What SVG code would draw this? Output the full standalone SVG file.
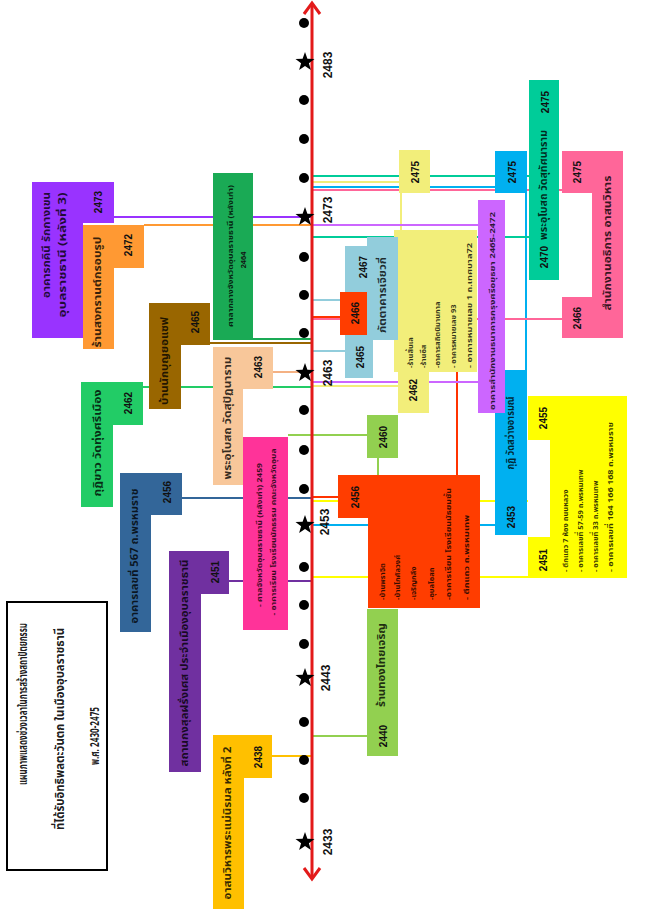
<svg xmlns="http://www.w3.org/2000/svg" width="665" height="909" viewBox="0 0 665 909">
<defs>
<style>
.t{font-family:"Noto Sans Thai","Noto Sans Thai UI","Noto Sans","DejaVu Sans",sans-serif;font-weight:bold;fill:#000;fill-opacity:.78;text-anchor:middle;dominant-baseline:central;font-size:10px}
.yr{font-family:"Liberation Sans",Arial,sans-serif;font-weight:bold;fill:#111;text-anchor:middle;dominant-baseline:central;font-size:10px}
.tl{font-family:"Liberation Sans",Arial,sans-serif;font-weight:bold;fill:#111;text-anchor:middle;dominant-baseline:central;font-size:12px}
.ti{font-size:11.5px;fill-opacity:.9}
.sm{font-size:7.5px}
.st{text-anchor:start}
.c line,.c polyline{stroke-width:2;fill:none}
</style>
<polygon id="star" points="0,-10 2.4,-3.3 9.5,-3.1 3.9,1.3 5.9,8.1 0,4.1 -5.9,8.1 -3.9,1.3 -9.5,-3.1 -2.4,-3.3" fill="#000"/>
</defs>
<rect width="665" height="909" fill="#fff"/>

<g id="connectors" class="c">
<line x1="114" y1="217" x2="311" y2="217" stroke="#9933FF"/>
<line x1="144" y1="225" x2="311" y2="225" stroke="#FF9933"/>
<line x1="253" y1="339" x2="311" y2="339" stroke="#1AAA55"/>
<line x1="210" y1="343" x2="311" y2="343" stroke="#996600"/>
<line x1="143" y1="387" x2="311" y2="387" stroke="#22CC66"/>
<line x1="273" y1="372" x2="311" y2="372" stroke="#F4B183"/>
<line x1="182" y1="498" x2="311" y2="498" stroke="#336699"/>
<line x1="229" y1="581" x2="311" y2="581" stroke="#7030A0"/>
<line x1="272" y1="756" x2="311" y2="756" stroke="#FFC000"/>
<line x1="311" y1="736" x2="367" y2="736" stroke="#92D050"/>
<line x1="288" y1="435" x2="367" y2="435" stroke="#92D050"/>
<line x1="378" y1="458" x2="378" y2="475" stroke="#92D050"/>
<line x1="311" y1="501" x2="528" y2="501" stroke="#FFFF00" stroke-width="3"/>
<line x1="311" y1="577" x2="528" y2="577" stroke="#FFFF00" stroke-width="3"/>
<line x1="311" y1="497" x2="338" y2="497" stroke="#FF3300"/>
<line x1="457" y1="372" x2="457" y2="475" stroke="#FF3300"/>
<line x1="311" y1="317" x2="340" y2="317" stroke="#FF3300"/>
<line x1="311" y1="525" x2="495" y2="525" stroke="#00B0F0"/>
<line x1="311" y1="187" x2="495" y2="187" stroke="#00B0F0"/>
<line x1="526" y1="193" x2="526" y2="370" stroke="#00B0F0"/>
<line x1="311" y1="176" x2="529" y2="176" stroke="#00CC99"/>
<line x1="311" y1="237" x2="529" y2="237" stroke="#00CC99"/>
<line x1="311" y1="182" x2="399" y2="182" stroke="#F2EE7A"/>
<line x1="401" y1="193" x2="401" y2="230" stroke="#F2EE7A"/>
<line x1="311" y1="386" x2="398" y2="386" stroke="#F2EE7A"/>
<line x1="311" y1="225" x2="478" y2="225" stroke="#CC66FF"/>
<line x1="311" y1="382" x2="478" y2="382" stroke="#CC66FF"/>
<line x1="311" y1="300" x2="345" y2="300" stroke="#92CDDC"/>
<line x1="311" y1="351" x2="345" y2="351" stroke="#92CDDC"/>
<line x1="311" y1="190" x2="562" y2="190" stroke="#FF6699"/>
<line x1="311" y1="319" x2="562" y2="319" stroke="#FF6699"/>
</g>

<g id="timeline">
<line x1="312" y1="4" x2="312" y2="878" stroke="#E31A1A" stroke-width="3"/>
<polyline points="304,14 312,3 320,14" fill="none" stroke="#E31A1A" stroke-width="3"/>
<polyline points="304,868 312,879 320,868" fill="none" stroke="#E31A1A" stroke-width="3"/>
<g fill="#000">
<circle cx="304" cy="23" r="5"/><circle cx="304" cy="100" r="5"/><circle cx="304" cy="139" r="5"/><circle cx="304" cy="178" r="5"/>
<circle cx="304" cy="257" r="5"/><circle cx="304" cy="295" r="5"/><circle cx="304" cy="333" r="5"/>
<circle cx="304" cy="410" r="5"/><circle cx="304" cy="450" r="5"/><circle cx="304" cy="489" r="5"/>
<circle cx="304" cy="567" r="5"/><circle cx="304" cy="605" r="5"/><circle cx="304" cy="644" r="5"/>
<circle cx="304" cy="722" r="5"/><circle cx="304" cy="760" r="5"/><circle cx="304" cy="798" r="5"/>
</g>
<use href="#star" x="305" y="62"/><use href="#star" x="305" y="217"/><use href="#star" x="305" y="373"/>
<use href="#star" x="305" y="525"/><use href="#star" x="305" y="678"/><use href="#star" x="305" y="842"/>
<text class="tl" transform="translate(328,65) rotate(-90)">2483</text>
<text class="tl" transform="translate(328,210) rotate(-90)">2473</text>
<text class="tl" transform="translate(328,373) rotate(-90)">2463</text>
<text class="tl" transform="translate(325,522) rotate(-90)">2453</text>
<text class="tl" transform="translate(326,678) rotate(-90)">2443</text>
<text class="tl" transform="translate(328,842) rotate(-90)">2433</text>
</g>

<g id="title">
<rect x="7" y="602" width="100" height="268" fill="#fff" stroke="#000" stroke-width="2"/>
<text class="t ti" transform="translate(23,704) rotate(-90)" textLength="162" lengthAdjust="spacingAndGlyphs">แผนภาพแสดงช่วงเวลาในการสร้างสถาปัตยกรรม</text>
<text class="t ti" transform="translate(60,729) rotate(-90)" textLength="202" lengthAdjust="spacingAndGlyphs">ที่ได้รับอิทธิพลตะวันตก ในเมืองอุบลราชธานี</text>
<text class="t ti" transform="translate(95,736) rotate(-90)" textLength="58" lengthAdjust="spacingAndGlyphs">พ.ศ. 2430-2475</text>
</g>

<g id="n2473">
<path d="M32,182H114V223H83V338H32Z" fill="#9933FF"/>
<text class="t" transform="translate(47,245) rotate(-90)" textLength="106" lengthAdjust="spacingAndGlyphs">อาคารภคินี รักกางเขน</text>
<text class="t" transform="translate(63,255) rotate(-90)" textLength="125" lengthAdjust="spacingAndGlyphs">อุบลราชธานี (หลังที่ 3)</text>
<text class="yr" transform="translate(98,202) rotate(-90)">2473</text>
</g>
<g id="n2472">
<path d="M83,225H144V268H114V349H83Z" fill="#FF9933"/>
<text class="t" transform="translate(98,292) rotate(-90)" textLength="111" lengthAdjust="spacingAndGlyphs">ร้านสงกรานต์กรอบรูป</text>
<text class="yr" transform="translate(128,245) rotate(-90)">2472</text>
</g>
<g id="n2464">
<rect x="213" y="173" width="40" height="167" fill="#1AAA55"/>
<text class="t sm" transform="translate(230,256) rotate(-90)" textLength="142" lengthAdjust="spacingAndGlyphs">ศาลากลางจังหวัดอุบลราชธานี (หลังเก่า)</text>
<text class="yr sm" transform="translate(243,260) rotate(-90)">2464</text>
</g>
<g id="n2465b">
<path d="M149,303H210V345H181V409H149Z" fill="#996600"/>
<text class="t" transform="translate(165,361) rotate(-90)" textLength="88" lengthAdjust="spacingAndGlyphs">บ้านนักบุญยอแซฟ</text>
<text class="yr" transform="translate(195,322) rotate(-90)">2465</text>
</g>
<g id="n2462g">
<path d="M81,382H143V425H113V507H81Z" fill="#22CC66"/>
<text class="t" transform="translate(98,443) rotate(-90)" textLength="107" lengthAdjust="spacingAndGlyphs">กุฏิขาว วัดทุ่งศรีเมือง</text>
<text class="yr" transform="translate(128,403) rotate(-90)">2462</text>
</g>
<g id="n2463">
<path d="M213,347H273V389H243V485H213Z" fill="#F8C79A"/>
<text class="t" transform="translate(228,418) rotate(-90)" textLength="123" lengthAdjust="spacingAndGlyphs">พระอุโบสถ วัดสุปัฏนาราม</text>
<text class="yr" transform="translate(258,367) rotate(-90)">2463</text>
</g>
<g id="n2459">
<rect x="243" y="437" width="45" height="193" fill="#FF3399"/>
<text class="t sm" transform="translate(259,535) rotate(-90)" textLength="144" lengthAdjust="spacingAndGlyphs">- ศาลจังหวัดอุบลราชธานี (หลังเก่า) 2459</text>
<text class="t sm" transform="translate(273,532) rotate(-90)" textLength="167" lengthAdjust="spacingAndGlyphs">- อาคารเรียน โรงเรียนนักธรรม คณะจังหวัดอุบล</text>
</g>
<g id="n2456b">
<path d="M120,473H182V515H151V632H120Z" fill="#336699"/>
<text class="t" transform="translate(135,556) rotate(-90)" textLength="135" lengthAdjust="spacingAndGlyphs">อาคารเลขที่ 567 ถ.พรหมราช</text>
<text class="yr" transform="translate(167,492) rotate(-90)">2456</text>
</g>
<g id="n2451p">
<path d="M169,551H229V594H201V772H169Z" fill="#7030A0"/>
<text class="t" transform="translate(185,663) rotate(-90)" textLength="207" lengthAdjust="spacingAndGlyphs">สถานกงสุลฝรั่งเศส ประจำเมืองอุบลราชธานี</text>
<text class="yr" transform="translate(215,572) rotate(-90)">2451</text>
</g>
<g id="n2438">
<path d="M213,735H272V778H244V909H213Z" fill="#FFC000"/>
<text class="t" transform="translate(228,823) rotate(-90)" textLength="153" lengthAdjust="spacingAndGlyphs">อาสนวิหารพระแม่นิรมล หลังที่ 2</text>
<text class="yr" transform="translate(258,757) rotate(-90)">2438</text>
</g>

<g id="n2440">
<rect x="367" y="609" width="31" height="147" fill="#92D050"/>
<text class="t" transform="translate(382,665) rotate(-90)" textLength="84" lengthAdjust="spacingAndGlyphs">ร้านทองไทยเจริญ</text>
<text class="yr" transform="translate(383,736) rotate(-90)">2440</text>
</g>
<g id="n2460">
<rect x="367" y="415" width="31" height="43" fill="#92D050"/>
<text class="yr" transform="translate(383,437) rotate(-90)">2460</text>
</g>
<g id="n2456r">
<path d="M338,475H480V608H368V518H338Z" fill="#FF3D00"/>
<text class="yr" transform="translate(355,497) rotate(-90)">2456</text>
<text class="t sm st" transform="translate(382,600) rotate(-90)">-บ้านพราจิต</text>
<text class="t sm st" transform="translate(397,600) rotate(-90)">-บ้านโกศัลวงศ์</text>
<text class="t sm st" transform="translate(413,600) rotate(-90)">-เจริญกลึง</text>
<text class="t sm st" transform="translate(431,600) rotate(-90)">-อุบลโอสถ</text>
<text class="t sm st" transform="translate(448,600) rotate(-90)" textLength="112" lengthAdjust="spacingAndGlyphs">-อาคารเรียน โรงเรียนมัธยมชั้น</text>
<text class="t sm st" transform="translate(466,600) rotate(-90)" textLength="85" lengthAdjust="spacingAndGlyphs">- ตึกแถว ถ.พรหมเทพ</text>
</g>
<g id="n2475y">
<rect x="399" y="150" width="31" height="43" fill="#F2EE7A"/>
<rect x="394" y="230" width="83" height="142" fill="#F2EE7A"/>
<rect x="398" y="372" width="31" height="41" fill="#F2EE7A"/>
<text class="yr" transform="translate(415,172) rotate(-90)">2475</text>
<text class="yr" transform="translate(413,390) rotate(-90)">2462</text>
<text class="t sm st" transform="translate(410,368) rotate(-90)">-ร้านสิ้นเล</text>
<text class="t sm st" transform="translate(423,368) rotate(-90)">-ร้านอีส</text>
<text class="t sm st" transform="translate(437,368) rotate(-90)">-อาคารสถิตนิมานกาล</text>
<text class="t sm st" transform="translate(453,368) rotate(-90)">- อาคารหมายเลข 93</text>
<text class="t sm st" transform="translate(469,368) rotate(-90)" textLength="125" lengthAdjust="spacingAndGlyphs">- อาคารหมายเลข 1 ถ.เทศบาล72</text>
</g>
<g id="n2467">
<path d="M367,237H398V340H373V378H345V246H367Z" fill="#92CDDC"/>
<text class="yr" transform="translate(363,267) rotate(-90)">2467</text>
<text class="t" transform="translate(383,295) rotate(-90)" textLength="76" lengthAdjust="spacingAndGlyphs">ภัตตาคารเจียวกี่</text>
<text class="yr" transform="translate(360,357) rotate(-90)">2465</text>
</g>
<g id="n2466r">
<rect x="340" y="292" width="27" height="43" fill="#FF3D00"/>
<text class="yr" transform="translate(355,313) rotate(-90)">2466</text>
</g>
<g id="n2453">
<rect x="495" y="151" width="32" height="42" fill="#00B0F0"/>
<rect x="495" y="370" width="32" height="165" fill="#00B0F0"/>
<text class="yr" transform="translate(512,172) rotate(-90)">2475</text>
<text class="t" transform="translate(511,433) rotate(-90)" textLength="73" lengthAdjust="spacingAndGlyphs">กุฏิ วัดสว่างอารมณ์</text>
<text class="yr" transform="translate(511,517) rotate(-90)">2453</text>
</g>
<g id="n2465p">
<rect x="478" y="200" width="27" height="213" fill="#CC66FF"/>
<text class="t sm" transform="translate(492,311) rotate(-90)" textLength="198" lengthAdjust="spacingAndGlyphs">อาคารสำนักงานธนาคารกรุงศรีอยุธยา 2465-2472</text>
</g>
<g id="n2455">
<path d="M528,396H627V578H528V537H550V440H528Z" fill="#FFFF00"/>
<text class="yr" transform="translate(543,418) rotate(-90)">2455</text>
<text class="yr" transform="translate(543,560) rotate(-90)">2451</text>
<text class="t sm st" transform="translate(565,572) rotate(-90)">- ตึกแถว 7 ห้อง ถนนหลวง</text>
<text class="t sm st" transform="translate(580,572) rotate(-90)">- อาคารเลขที่ 57-59 ถ.พรหมเทพ</text>
<text class="t sm st" transform="translate(595,572) rotate(-90)">- อาคารเลขที่ 33 ถ.พรหมเทพ</text>
<text class="t sm st" transform="translate(610,572) rotate(-90)" textLength="150" lengthAdjust="spacingAndGlyphs">- อาคารเลขที่ 164 166 168 ถ.พรหมราช</text>
</g>
<g id="n2470">
<rect x="529" y="80" width="30" height="200" fill="#00CC99"/>
<text class="yr" transform="translate(545,102) rotate(-90)">2475</text>
<text class="t" transform="translate(544,185) rotate(-90)" textLength="110" lengthAdjust="spacingAndGlyphs">พระอุโบสถ วัดสุทัศนาราม</text>
<text class="yr" transform="translate(544,257) rotate(-90)">2470</text>
</g>
<g id="n2466p">
<path d="M562,151H623V338H562V297H592V193H562Z" fill="#FF6699"/>
<text class="yr" transform="translate(577,172) rotate(-90)">2475</text>
<text class="yr" transform="translate(577,318) rotate(-90)">2466</text>
<text class="t" transform="translate(608,243) rotate(-90)" textLength="135" lengthAdjust="spacingAndGlyphs">สำนักงานอธิการ อาสนวิหาร</text>
</g>
</svg>
